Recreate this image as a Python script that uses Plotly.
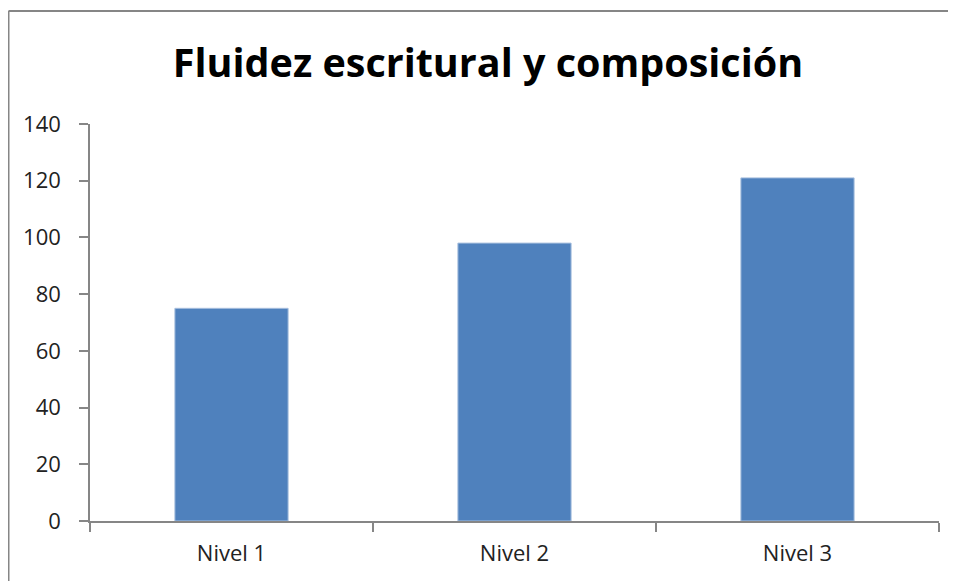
import plotly.graph_objects as go

categories = ["Nivel 1", "Nivel 2", "Nivel 3"]
values = [75, 98, 121]
y_ticks = [0, 20, 40, 60, 80, 100, 120, 140]

# the page body adds an 8px margin, so the figure is sized to fit inside it
W, H = 948, 573
L, R, T, B = 82, 17, 116, 60
PW, PH = W - L - R, H - T - B

# frame of the chart area (only left and top edges fall inside the picture)
fx = (0.5 - L) / PW
fy = (H - B - 3) / PH

fig = go.Figure()
fig.add_trace(go.Bar(
    x=categories, y=values,
    width=0.4,
    marker=dict(color="#4F81BD", line=dict(color="#A7BFDE", width=1)),
    showlegend=False,
))

axis_color = "#868686"
fig.update_layout(
    width=W, height=H,
    margin=dict(l=L, r=R, t=T, b=B),
    paper_bgcolor="white", plot_bgcolor="white",
    font=dict(family="Open Sans, sans-serif", color="#000000", size=18),
    title=dict(
        text="<b>Fluidez escritural y composición</b>",
        x=480 / W, xanchor="center", xref="container",
        y=1 - 55 / H, yanchor="middle", yref="container",
        font=dict(size=39.5, color="#000000"),
    ),
    xaxis=dict(
        showline=True, linecolor=axis_color, linewidth=1.5,
        ticks="outside", tickson="boundaries", ticklen=9,
        tickcolor=axis_color, tickwidth=1.5,
        showgrid=False, ticklabelstandoff=12,
        tickfont=dict(size=22, color="#222"),
    ),
    yaxis=dict(
        range=[0, 140], tickvals=y_ticks,
        showline=True, linecolor=axis_color, linewidth=1.5,
        ticks="outside", ticklen=9, tickcolor=axis_color, tickwidth=1.5,
        showgrid=False, zeroline=False, ticklabelstandoff=14,
        tickfont=dict(size=22, color="#222"),
    ),
    shapes=[
        dict(type="line", xref="paper", yref="paper", x0=fx, x1=fx, y0=-0.5, y1=fy,
             line=dict(color=axis_color, width=2)),
        dict(type="line", xref="paper", yref="paper", x0=fx, x1=1.5, y0=fy, y1=fy,
             line=dict(color=axis_color, width=2)),
    ],
)

fig.write_html("out.html")
